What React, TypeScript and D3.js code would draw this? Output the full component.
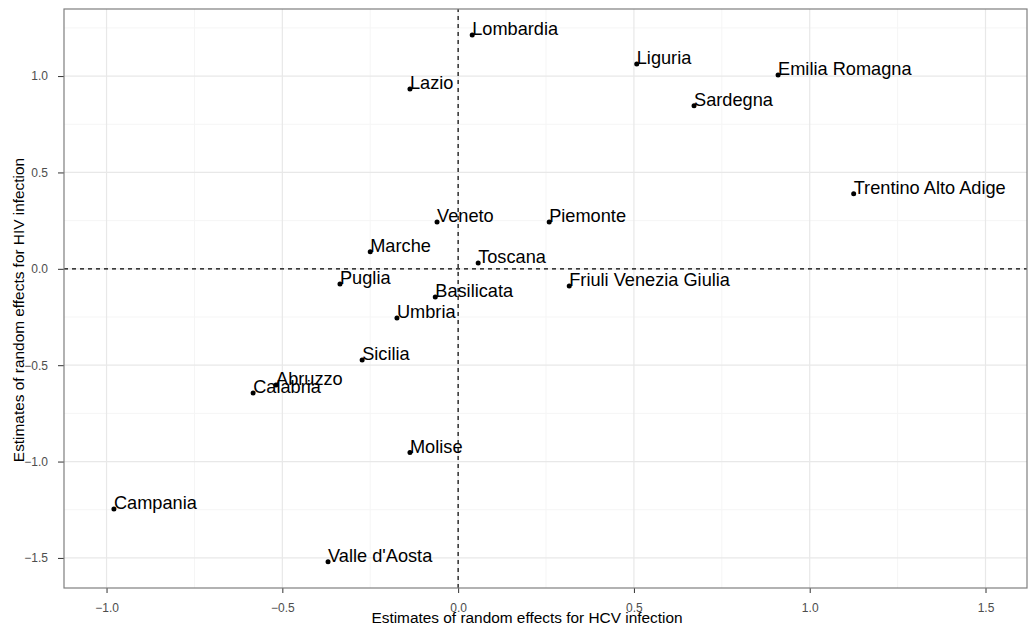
import React, { useEffect, useRef } from "react";
import * as d3 from "d3";

// regions and their random-effect estimates (HCV on x, HIV on y)
const regions = [
  "Lombardia", "Liguria", "Emilia Romagna", "Lazio", "Sardegna",
  "Trentino Alto Adige", "Veneto", "Piemonte", "Marche", "Toscana",
  "Friuli Venezia Giulia", "Puglia", "Basilicata", "Umbria", "Sicilia",
  "Abruzzo", "Calabria", "Molise", "Campania", "Valle d'Aosta",
];
const hcv = [
  0.04, 0.508, 0.91, -0.137, 0.671,
  1.125, -0.06, 0.259, -0.25, 0.057,
  0.316, -0.336, -0.065, -0.174, -0.273,
  -0.518, -0.583, -0.137, -0.979, -0.37,
];
const hiv = [
  1.213, 1.062, 1.005, 0.933, 0.846,
  0.39, 0.243, 0.243, 0.088, 0.03,
  -0.089, -0.079, -0.146, -0.255, -0.473,
  -0.603, -0.644, -0.953, -1.246, -1.52,
];
const xTicks = [-1.0, -0.5, 0.0, 0.5, 1.0, 1.5];
const yTicks = [-1.5, -1.0, -0.5, 0.0, 0.5, 1.0];
const xMinor = [-0.75, -0.25, 0.25, 0.75, 1.25];
const yMinor = [-1.25, -0.75, -0.25, 0.25, 0.75, 1.25];

const App = () => {
  const ref = useRef<SVGSVGElement>(null);

  useEffect(() => {
    const width = 1029,
      height = 628;
    const margin = { top: 9, right: 2, bottom: 40, left: 64 };

    const svg = d3.select(ref.current);
    svg.selectAll("*").remove();

    const x = d3
      .scaleLinear()
      .domain([-1.121, 1.618])
      .range([margin.left, width - margin.right]);
    const y = d3
      .scaleLinear()
      .domain([-1.656, 1.348])
      .range([height - margin.bottom, margin.top]);

    const font = "'Liberation Sans', Arial, sans-serif";

    // grid
    const vlines = (vals: number[], color: string, w: number) =>
      svg
        .append("g")
        .selectAll("line")
        .data(vals)
        .enter()
        .append("line")
        .attr("x1", (d) => x(d))
        .attr("x2", (d) => x(d))
        .attr("y1", y.range()[0])
        .attr("y2", y.range()[1])
        .attr("stroke", color)
        .attr("stroke-width", w);
    const hlines = (vals: number[], color: string, w: number) =>
      svg
        .append("g")
        .selectAll("line")
        .data(vals)
        .enter()
        .append("line")
        .attr("y1", (d) => y(d))
        .attr("y2", (d) => y(d))
        .attr("x1", x.range()[0])
        .attr("x2", x.range()[1])
        .attr("stroke", color)
        .attr("stroke-width", w);
    vlines(xMinor, "#f5f5f5", 1);
    hlines(yMinor, "#f5f5f5", 1);
    vlines(xTicks, "#e8e8e8", 1.2);
    hlines(yTicks, "#e8e8e8", 1.2);

    // reference lines at zero
    svg
      .append("line")
      .attr("x1", x(0))
      .attr("x2", x(0))
      .attr("y1", y.range()[0])
      .attr("y2", y.range()[1])
      .attr("stroke", "black")
      .attr("stroke-width", 1.2)
      .attr("stroke-dasharray", "4,4");
    svg
      .append("line")
      .attr("y1", y(0))
      .attr("y2", y(0))
      .attr("x1", x.range()[0])
      .attr("x2", x.range()[1])
      .attr("stroke", "black")
      .attr("stroke-width", 1.2)
      .attr("stroke-dasharray", "4,4");

    // axes
    const xAxis = svg
      .append("g")
      .attr("transform", `translate(0,${y.range()[0]})`)
      .call(
        d3
          .axisBottom(x)
          .tickValues(xTicks)
          .tickSize(5)
          .tickPadding(10)
          .tickFormat(d3.format(".1f"))
      );
    const yAxis = svg
      .append("g")
      .attr("transform", `translate(${x.range()[0]},0)`)
      .call(
        d3
          .axisLeft(y)
          .tickValues(yTicks)
          .tickSize(6)
          .tickPadding(10)
          .tickFormat(d3.format(".1f"))
      );
    [xAxis, yAxis].forEach((g) => {
      g.select(".domain").remove();
      g.selectAll("line").attr("stroke", "#333333");
      g.selectAll("text")
        .attr("fill", "#4d4d4d")
        .style("font-family", font)
        .style("font-size", "12px");
    });

    // panel border
    svg
      .append("rect")
      .attr("x", x.range()[0])
      .attr("y", y.range()[1])
      .attr("width", x.range()[1] - x.range()[0])
      .attr("height", y.range()[0] - y.range()[1])
      .attr("fill", "none")
      .attr("stroke", "#7f7f7f")
      .attr("stroke-width", 1.2);

    const data = regions.map((r, i) => ({ name: r, hcv: hcv[i], hiv: hiv[i] }));

    // points
    svg
      .append("g")
      .selectAll("circle")
      .data(data)
      .enter()
      .append("circle")
      .attr("cx", (d) => x(d.hcv))
      .attr("cy", (d) => y(d.hiv))
      .attr("r", 2.5)
      .attr("fill", "black");

    // labels
    svg
      .append("g")
      .selectAll("text")
      .data(data)
      .enter()
      .append("text")
      .attr("x", (d) => x(d.hcv))
      .attr("y", (d) => y(d.hiv))
      .text((d) => d.name)
      .attr("fill", "black")
      .style("font-family", font)
      .style("font-size", "18.2px");

    // axis titles
    svg
      .append("text")
      .attr("x", 527)
      .attr("y", 623)
      .attr("text-anchor", "middle")
      .text("Estimates of random effects for HCV infection")
      .style("font-family", font)
      .style("font-size", "15.4px");
    svg
      .append("text")
      .attr("transform", `translate(24,310) rotate(-90)`)
      .attr("text-anchor", "middle")
      .text("Estimates of random effects for HIV infection")
      .style("font-family", font)
      .style("font-size", "15.4px");
  }, []);

  return (
    <svg
      ref={ref}
      width={1029}
      height={628}
      style={{ position: "absolute", left: 0, top: 0, background: "white" }}
    ></svg>
  );
};

export default App;
